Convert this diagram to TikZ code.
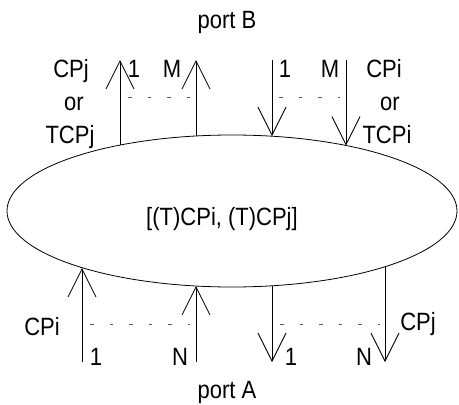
\documentclass[tikz,border=0pt]{standalone}
\usepackage{fontspec}
\setmainfont{Liberation Sans}[FakeStretch=0.88]
\usetikzlibrary{arrows.meta,shapes.geometric}

\begin{document}
\begin{tikzpicture}[x=1pt,y=-1pt,
    font=\fontsize{25}{30}\selectfont,
    arr/.style={-{Straight Barb[length=28pt,width=28pt]},line width=0.8pt},
    dots/.style={black!65,line width=0.8pt,dash pattern=on 3.5pt off 16pt},
    lbl/.style={anchor=base,inner sep=0pt}]
    \useasboundingbox (0,0) rectangle (459,405);
    % the ellipse
    \node[draw,ellipse,line width=0.8pt,minimum width=450pt,minimum height=152pt,inner sep=0pt] (ell) at (232,211) {};
    \node[lbl] (mid) at (222,225) {[(T)CPi, (T)CPj]};
    % port B side
    \node[lbl] (pb) at (227,28) {port B};
    \node[lbl] (cpjB) at (71,77) {CPj};
    \node[lbl] (orjB) at (74,110) {or};
    \node[lbl] (tcpjB) at (70,143) {TCPj};
    \node[lbl] (oneL) at (134,77) {1};
    \node[lbl] (mL) at (172,77) {M};
    \node[lbl] (oneR) at (285,77) {1};
    \node[lbl] (mR) at (330,77) {M};
    \node[lbl] (cpiB) at (384,77) {CPi};
    \node[lbl] (oriB) at (390,110) {or};
    \node[lbl] (tcpiB) at (387,143) {TCPi};
    \coordinate (b1s) at (120,145);   \coordinate (b1t) at (120,60);
    \coordinate (bMs) at (196,136);   \coordinate (bMt) at (196,60);
    \coordinate (c1s) at (272,60);    \coordinate (c1t) at (272,136);
    \coordinate (cMs) at (346,60);    \coordinate (cMt) at (346,145.5);
    \coordinate (bdl) at (128,97);    \coordinate (bdr) at (190,97);
    \coordinate (cdl) at (279,97);    \coordinate (cdr) at (340,97);
    % port A side
    \node[lbl] (pa) at (227,398) {port A};
    \node[lbl] (cpiA) at (42,335) {CPi};
    \node[lbl] (oneA) at (96,365) {1};
    \node[lbl] (nA) at (180,365) {N};
    \node[lbl] (cpjA) at (418,330) {CPj};
    \node[lbl] (oneD) at (291,365) {1};
    \node[lbl] (nD) at (364,365) {N};
    \coordinate (a1s) at (82,362);    \coordinate (a1t) at (82,268);
    \coordinate (aNs) at (196,362);   \coordinate (aNt) at (196,286);
    \coordinate (d1s) at (272,286);   \coordinate (d1t) at (272,362);
    \coordinate (dNs) at (385,267);   \coordinate (dNt) at (385,362);
    \coordinate (adl) at (90,324);    \coordinate (adr) at (190,324);
    \coordinate (ddl) at (280,324);   \coordinate (ddr) at (380,324);
    % arrows and dotted spans
    \foreach \s/\t in {b1s/b1t,bMs/bMt,c1s/c1t,cMs/cMt,a1s/a1t,aNs/aNt,d1s/d1t,dNs/dNt} {\draw[arr] (\s) -- (\t);}
    \foreach \s/\t in {bdl/bdr,cdl/cdr,adl/adr,ddl/ddr} {\draw[dots] (\s) -- (\t);}
\end{tikzpicture}
\end{document}
